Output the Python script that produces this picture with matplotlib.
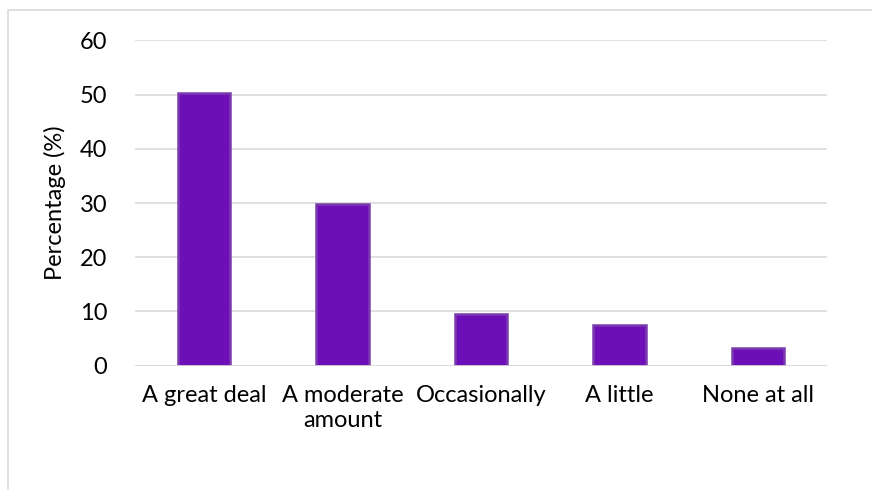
import matplotlib
matplotlib.use("Agg")
import matplotlib.pyplot as plt
from matplotlib.patches import Rectangle

categories = ["A great deal", "A moderate\namount", "Occasionally", "A little", "None at all"]
percentages = [50.2, 29.8, 9.6, 7.5, 3.2]
y_ticks = [0, 10, 20, 30, 40, 50, 60]

plt.rcParams["font.family"] = ["Lato", "DejaVu Sans"]

fig = plt.figure(figsize=(8.72, 4.90), dpi=100)
ax = fig.add_axes([135 / 872, 1 - 365.7 / 490, 692 / 872, 325.4 / 490])

x = range(len(categories))
ax.bar(x, percentages, width=0.38, color="#6c0fb8", edgecolor="#7b3aae", linewidth=1.8, zorder=3)

ax.set_xlim(-0.5, len(categories) - 0.5)
ax.set_ylim(0, 60)
ax.set_yticks(y_ticks)
ax.set_xticks(list(x))
ax.set_xticklabels(categories, fontsize=17, linespacing=1.25, va="top")
ax.tick_params(axis="y", labelsize=17, length=0, pad=20)
ax.tick_params(axis="x", length=0, pad=14)
ax.grid(axis="y", color="#d9d9d9", linewidth=1.2, zorder=0)
for side in ["top", "right", "left", "bottom"]:
    ax.spines[side].set_visible(False)
ax.axhline(0, color="#d9d9d9", linewidth=1.2, zorder=4)

ax.set_ylabel("Percentage (%)", fontsize=17)
ax.yaxis.set_label_coords(-0.10, 0.5)

# chart area outline
fig.patches.append(Rectangle((8 / 872, -0.05), 1.1, 1 - 10 / 490 + 0.05, transform=fig.transFigure,
                             fill=False, edgecolor="#d9d9d9", linewidth=1.2))

fig.savefig("out.png", dpi=100)
